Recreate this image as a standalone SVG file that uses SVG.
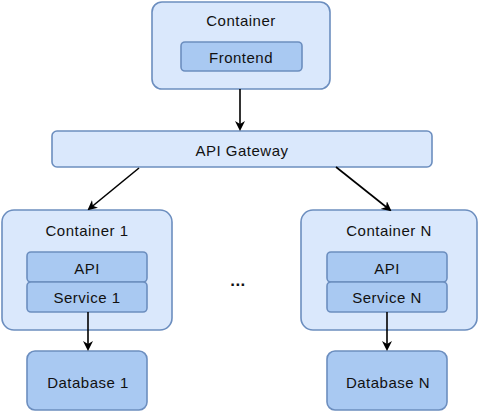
<svg xmlns="http://www.w3.org/2000/svg" width="479" height="412" viewBox="0 0 479 412">
<defs>
<marker id="ah" markerWidth="10" markerHeight="10" refX="8" refY="5" orient="auto" markerUnits="userSpaceOnUse">
<path d="M0,0 L10,5 L0,10 L3,5 Z" fill="#000"/>
</marker>
</defs>
<style>
.outer{fill:#dae8fc;stroke:#6c8ebf;stroke-width:1.6}
.inner{fill:#a9c9f2;stroke:#6c8ebf;stroke-width:1.6}
text{font-family:"Liberation Sans","DejaVu Sans",sans-serif;font-size:15px;letter-spacing:0.5px;fill:#111;text-anchor:middle;dominant-baseline:central}
.conn{stroke:#000;stroke-width:1.6;fill:none;marker-end:url(#ah)}
</style>
<rect width="479" height="412" fill="#fff"/>
<g id="container-top">
<rect class="outer" x="152" y="2" width="178" height="87" rx="10"/>
<text x="241" y="20">Container</text>
</g>
<g id="frontend">
<rect class="inner" x="181" y="42" width="121" height="29" rx="4"/>
<text x="241" y="57">Frontend</text>
</g>
<g id="api-gateway">
<rect class="outer" x="52" y="131" width="380" height="36" rx="5"/>
<text x="242" y="150">API Gateway</text>
</g>
<g id="container-1">
<rect class="outer" x="2" y="210" width="170" height="120" rx="12"/>
<text x="87" y="230">Container 1</text>
</g>
<g id="api-1">
<rect class="inner" x="27" y="252" width="120" height="30" rx="4"/>
<text x="87" y="268">API</text>
</g>
<g id="service-1">
<rect class="inner" x="27" y="282" width="120" height="30" rx="4"/>
<text x="87" y="297">Service 1</text>
</g>
<g id="container-n">
<rect class="outer" x="301" y="210" width="176" height="120" rx="12"/>
<text x="389" y="230">Container N</text>
</g>
<g id="api-n">
<rect class="inner" x="327" y="252" width="120" height="30" rx="4"/>
<text x="387" y="268">API</text>
</g>
<g id="service-n">
<rect class="inner" x="327" y="282" width="120" height="30" rx="4"/>
<text x="387" y="297">Service N</text>
</g>
<g id="database-1">
<rect class="inner" x="27" y="351" width="120" height="59" rx="8"/>
<text x="88" y="382">Database 1</text>
</g>
<g id="database-n">
<rect class="inner" x="327" y="351" width="120" height="59" rx="8"/>
<text x="388" y="382">Database N</text>
</g>
<g id="ellipsis">
<text x="238" y="280" style="font-weight:bold;font-size:17px">...</text>
</g>
<g id="connectors">
<path class="conn" d="M240,89 L240,129"/>
<path class="conn" d="M139,168 L89,209"/>
<path class="conn" d="M336,167 L390,210"/>
<path class="conn" d="M88,312 L88,349"/>
<path class="conn" d="M387,312 L387,349"/>
</g>
</svg>
